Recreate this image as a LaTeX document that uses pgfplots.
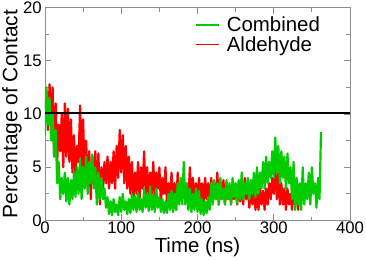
\documentclass[border=0pt]{standalone}
\usepackage{fontspec}
\setmainfont{Liberation Sans}
\usepackage{pgfplots}
\pgfplotsset{compat=1.18}
\definecolor{cgreen}{RGB}{0,204,0}
\definecolor{cred}{RGB}{255,0,0}
\definecolor{framecol}{RGB}{140,140,140}
\begin{document}
\begin{tikzpicture}
\begin{axis}[
  scale only axis, width=305bp, height=213bp,
  xmin=0, xmax=400, ymin=0, ymax=20,
  xtick={0,100,200,300,400}, ytick={0,5,10,15,20},
  minor xtick={50,150,250,350}, minor ytick={2.5,7.5,12.5,17.5},
  major tick length=6bp, minor tick length=4bp,
  axis line style={framecol, line width=0.8bp},
  tick style={framecol, line width=0.8bp},
  /pgf/number format/assume math mode=true,
  ticklabel style={font=\fontsize{16.8}{16.8}\selectfont},
  xticklabel style={anchor=north, inner sep=0pt, yshift=-1bp},
  yticklabel style={anchor=east, inner sep=0pt, xshift=-3bp},
  xlabel={Time (ns)}, ylabel={Percentage of Contact},
  xlabel style={font=\fontsize{20.5}{20.5}\selectfont, at={(axis description cs:0.5,-0.1479)}, anchor=base, inner sep=0pt},
  ylabel style={font=\fontsize{21}{21}\selectfont, at={(axis description cs:-0.141,0.5)}, anchor=north, inner sep=0pt},
  legend style={draw=none, fill=none, at={(axis description cs:0.492,0.955)}, anchor=north west,
    inner sep=0pt, outer sep=0pt, font=\fontsize{20.5}{20.5}\selectfont,
    row sep=3bp, column sep=7bp, nodes={inner sep=0pt}},
  legend image code/.code={\draw[#1, line width=1.8bp] (0bp,0bp) -- (23bp,0bp);},
  legend cell align=left,
]
\addlegendimage{cgreen}\addlegendentry{Combined}
\addlegendimage{cred}\addlegendentry{Aldehyde}

% Aldehyde (drawn first)
\addplot[cred, line width=2.2bp, line join=round, forget plot] coordinates {
(0,10.5)(2,12.0)(4,8.5)(6,12.8)(8,9.0)(10,12.5)(12,6.0)(14,11.0)(16,5.5)(18,9.0)
(20,6.5)(22,10.0)(24,5.0)(26,11.0)(28,6.0)(30,10.5)(32,5.5)(34,9.5)(36,4.5)(38,8.0)
(40,4.0)(42,7.0)(44,5.5)(46,10.8)(48,5.0)(50,9.5)(52,4.0)(54,7.5)(56,3.0)(58,6.5)
(60,2.0)(62,6.0)(64,3.5)(66,6.5)(68,2.5)(70,6.3)(72,1.5)(74,5.0)(76,3.0)(78,5.5)
(80,3.5)(82,6.0)(84,3.0)(86,5.5)(88,3.5)(90,6.5)(92,3.0)(94,7.0)(96,4.0)(98,8.5)
(100,4.5)(102,8.0)(104,3.5)(106,7.0)(108,3.0)(110,6.0)(112,2.5)(114,5.5)(116,2.0)(118,4.5)
(120,2.5)(122,5.5)(124,2.0)(126,5.0)(128,3.0)(130,6.5)(132,2.5)(134,5.0)(136,2.0)(138,4.5)
(140,2.5)(142,5.5)(144,2.0)(146,4.5)(148,3.0)(150,5.0)(152,1.5)(154,4.0)(156,2.5)(158,5.0)
(160,1.5)(162,3.5)(164,2.0)(166,4.5)(168,1.5)(170,3.5)(172,1.0)(174,4.5)(176,2.0)(178,3.5)
(180,2.5)(182,4.0)(184,1.8)(186,3.5)(188,2.0)(190,5.0)(192,2.0)(194,4.0)(196,1.5)(198,3.5)
(200,2.0)(202,4.0)(204,2.0)(206,3.5)(208,1.5)(210,4.0)(212,2.0)(214,3.5)(216,1.5)(218,4.0)
(220,2.0)(222,3.5)(224,2.0)(226,4.5)(228,1.5)(230,3.5)(232,2.0)(234,3.8)(236,1.5)(238,3.2)
(240,2.0)(242,3.0)(244,1.5)(246,3.5)(248,2.0)(250,3.2)(252,1.5)(254,3.5)(256,1.8)(258,3.0)
(260,1.5)(262,4.0)(264,2.0)(266,3.0)(268,1.2)(270,3.0)(272,1.5)(274,3.5)(276,1.0)(278,2.5)
(280,1.0)(282,3.0)(284,1.5)(286,2.8)(288,1.0)(290,3.0)(292,1.5)(294,3.5)(296,2.0)(298,4.0)
(300,2.5)(302,5.0)(304,2.0)(306,4.5)(308,1.5)(310,3.5)(312,1.5)(314,3.0)(316,1.0)(318,3.0)
(320,1.5)(322,2.5)(324,1.0)(326,3.0)(328,1.5)(330,2.5)(332,1.0)(334,3.0)
};

% Combined
\addplot[cgreen, line width=2.2bp, line join=round, forget plot] coordinates {
(0,8.0)(2,12.5)(4,9.0)(6,11.5)(8,7.5)(10,10.0)(12,6.0)(14,8.5)(16,3.5)(18,5.5)
(20,2.0)(22,4.0)(24,2.5)(26,4.5)(28,1.8)(30,4.0)(32,1.5)(34,3.8)(36,2.0)(38,4.5)
(40,2.2)(42,5.0)(44,2.5)(46,5.8)(48,2.0)(50,5.0)(52,3.0)(54,6.0)(56,2.5)(58,5.5)
(60,3.5)(62,6.2)(64,3.0)(66,5.0)(68,1.5)(70,4.5)(72,2.0)(74,4.0)(76,2.0)(78,3.0)
(80,1.2)(82,2.2)(84,0.6)(86,1.8)(88,0.5)(90,2.0)(92,0.8)(94,1.5)(96,0.5)(98,2.2)
(100,0.8)(102,2.5)(104,1.0)(106,1.8)(108,0.6)(110,2.0)(112,0.7)(114,2.5)(116,1.0)(118,2.3)
(120,0.8)(122,2.6)(124,1.0)(126,2.0)(128,0.8)(130,3.0)(132,1.2)(134,2.5)(136,0.9)(138,3.2)
(140,1.0)(142,2.4)(144,0.8)(146,3.0)(148,1.2)(150,2.2)(152,0.8)(154,2.0)(156,0.7)(158,1.8)
(160,0.7)(162,2.5)(164,1.0)(166,2.8)(168,0.8)(170,2.5)(172,1.0)(174,3.5)(176,1.5)(178,4.0)
(180,1.5)(182,5.5)(184,1.5)(186,3.5)(188,1.0)(190,3.0)(192,0.8)(194,2.5)(196,1.0)(198,3.0)
(200,0.8)(202,2.8)(204,0.6)(206,2.0)(208,0.5)(210,1.8)(212,0.7)(214,2.2)(216,1.0)(218,3.5)
(220,1.5)(222,3.8)(224,2.0)(226,3.5)(228,1.5)(230,4.0)(232,2.0)(234,3.0)(236,1.5)(238,3.8)
(240,2.0)(242,3.5)(244,1.5)(246,4.0)(248,2.2)(250,3.5)(252,1.6)(254,3.8)(256,2.0)(258,4.5)
(260,2.0)(262,3.5)(264,2.5)(266,4.0)(268,2.0)(270,3.8)(272,2.5)(274,4.5)(276,2.2)(278,5.0)
(280,2.5)(282,4.5)(284,3.0)(286,5.5)(288,3.0)(290,6.0)(292,3.5)(294,5.5)(296,4.0)(298,6.5)
(300,4.0)(302,7.8)(304,4.5)(306,7.0)(308,3.5)(310,6.5)(312,4.0)(314,6.0)(316,3.0)(318,6.3)
(320,3.5)(322,5.0)(324,2.0)(326,5.5)(328,1.0)(330,4.0)(332,1.5)(334,3.5)(336,1.0)(338,5.0)
(340,1.5)(342,3.5)(344,2.0)(346,4.5)(348,1.5)(350,5.0)(352,2.5)(354,3.5)(356,1.2)(358,4.0)
(360,2.0)(362,8.3)
};

% threshold line
\addplot[black, line width=2.5bp, forget plot] coordinates {(0,10.1) (400,10.1)};
\end{axis}
\pgfresetboundingbox
\path[use as bounding box] (-45bp,-40.5bp) rectangle (321bp,220.5bp);
\end{tikzpicture}
\end{document}
